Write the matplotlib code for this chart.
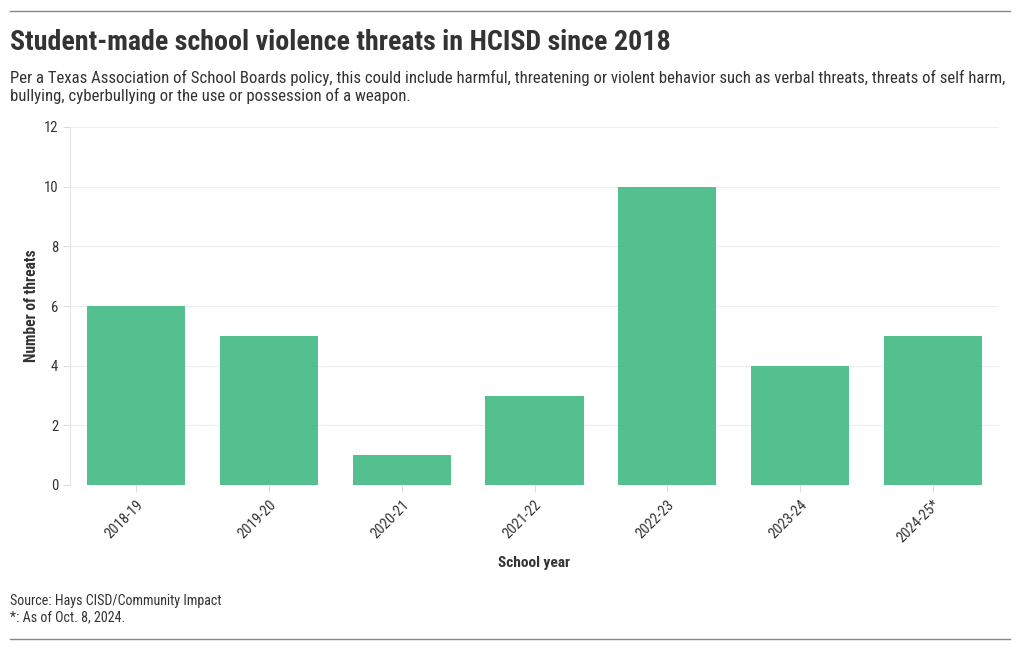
import matplotlib
matplotlib.use("Agg")
import matplotlib.pyplot as plt
from matplotlib import font_manager
from matplotlib.lines import Line2D

categories = ["2018-19", "2019-20", "2020-21", "2021-22", "2022-23", "2023-24", "2024-25*"]
threats = [6, 5, 1, 3, 10, 4, 5]
y_ticks = [0, 2, 4, 6, 8, 10, 12]

names = {f.name for f in font_manager.fontManager.ttflist}
FONT = "Roboto Condensed" if "Roboto Condensed" in names else "Roboto"
plt.rcParams["font.family"] = [FONT, "DejaVu Sans"]

TEXT = "#333333"
BAR = "#54C08F"

fig = plt.figure(figsize=(10.2, 6.5), dpi=100)
W, H = 1020, 650

def fx(x): return x / W
def fy(y): return 1 - y / H

ax = fig.add_axes([fx(70), fy(485), fx(999) - fx(70), fy(127) - fy(485)])
x = list(range(len(categories)))
ax.bar(x, threats, width=0.74, color=BAR, zorder=2)
ax.set_xlim(-0.5, len(categories) - 0.5)
ax.set_ylim(0, 12)
ax.set_yticks(y_ticks)
ax.set_xticks(x)
ax.set_xticklabels(categories, rotation=45, ha="right", rotation_mode="anchor")
ax.tick_params(axis="both", colors="#dddddd", labelcolor=TEXT, labelsize=10.5, length=5)
ax.tick_params(axis="x", pad=4)
ax.grid(axis="y", color="#eeeeee", linewidth=0.8, zorder=0)
for s in ["top", "right", "bottom"]:
    ax.spines[s].set_visible(False)
ax.spines["left"].set_color("#e6e6e6")
ax.set_ylabel("Number of threats", fontsize=11.2, fontweight="bold", color=TEXT, labelpad=3)
ax.set_xlabel("School year", fontsize=11.1, fontweight="bold", color=TEXT, labelpad=8)

fig.add_artist(Line2D([fx(10), fx(1010)], [fy(11), fy(11)], color="#888888", linewidth=1))
fig.add_artist(Line2D([fx(10), fx(1010)], [fy(639), fy(639)], color="#888888", linewidth=1))

fig.text(fx(10), fy(43), "Student-made school violence threats in HCISD since 2018",
         fontsize=20.2, fontweight="bold", color=TEXT, va="center", ha="left")
fig.text(fx(10), fy(87),
         "Per a Texas Association of School Boards policy, this could include harmful, threatening or violent behavior such as verbal threats, threats of self harm,\nbullying, cyberbullying or the use or possession of a weapon.",
         fontsize=12.05, color=TEXT, va="center", ha="left", linespacing=1.2)
fig.text(fx(10), fy(609), "Source: Hays CISD/Community Impact\n*: As of Oct. 8, 2024.",
         fontsize=10.1, color=TEXT, va="center", ha="left", linespacing=1.15)

fig.savefig("out.png", dpi=100)
